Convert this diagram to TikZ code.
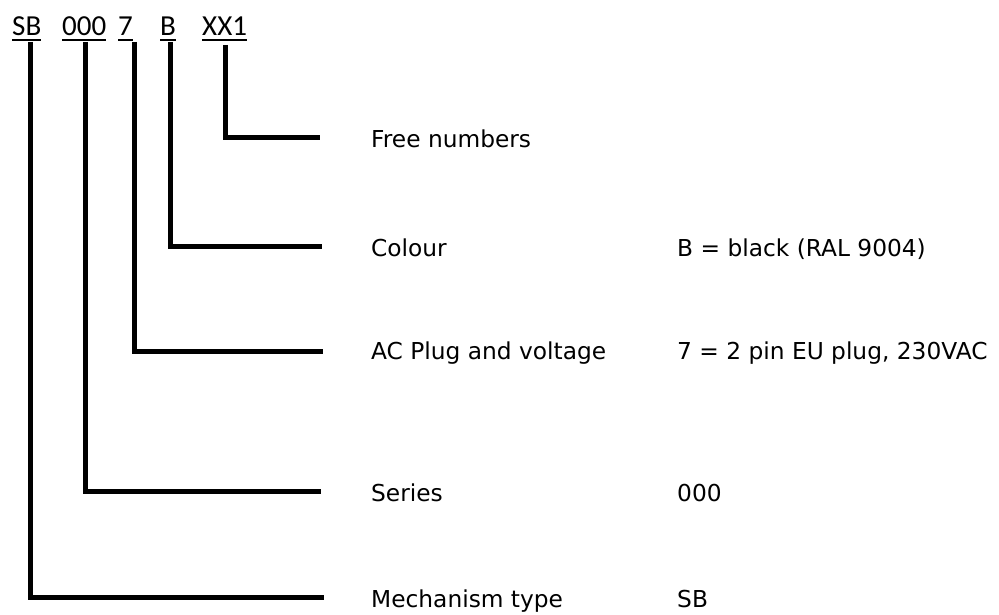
\documentclass[tikz,border=0pt]{standalone}
\usepackage{fontspec}
\setmainfont{DejaVu Sans}
\newfontfamily\codefont{Carlito}
\begin{document}
\begin{tikzpicture}[x=1pt,y=-1pt,
  code/.style={anchor=base west,inner sep=0pt,font=\codefont\fontsize{29}{32}\selectfont},
  desc/.style={anchor=base west,inner sep=0pt,font=\fontsize{23.3}{27}\selectfont},
  conn/.style={line width=5pt,line join=miter},
  uline/.style={line width=2pt}]
\useasboundingbox (0,0) rectangle (999,615);
% code labels
\node[code] (sb) at (12,36) {SB};
\node[code] (ser) at (62,36) {000};
\node[code] (pl) at (118,36) {7};
\node[code] (col) at (160,36) {B};
\node[code] (fr) at (202,36) {XX1};
\foreach \n in {sb,ser,pl,col,fr}
  \draw[uline] ([yshift=-4pt]\n.base west) -- ([yshift=-4pt]\n.base east);
% connector anchors
\coordinate (sbtop) at (30,42);
\coordinate (sertop) at (85,42);
\coordinate (pltop) at (134,42);
\coordinate (coltop) at (170.5,42);
\coordinate (frtop) at (225.5,45);
\coordinate (sbend) at (324,597);
\coordinate (serend) at (321,491);
\coordinate (plend) at (323,351);
\coordinate (colend) at (322,246);
\coordinate (frend) at (320,138);
\draw[conn] (sbtop) |- (sbend);
\draw[conn] (sertop) |- (serend);
\draw[conn] (pltop) |- (plend);
\draw[conn] (coltop) |- (colend);
\draw[conn] (frtop) |- (frend);
% descriptions
\node[desc] (frd) at (371,148) {Free numbers};
\node[desc] (cold) at (371,256) {Colour};
\node[desc] (pld) at (371,359) {AC Plug and voltage};
\node[desc] (serd) at (371,501) {Series};
\node[desc] (sbd) at (371,607) {Mechanism type};
\node[desc] (colv) at (677,256) {B = black (RAL 9004)};
\node[desc] (plv) at (677,359) {7 = 2 pin EU plug, 230VAC};
\node[desc] (serv) at (677,501) {000};
\node[desc] (sbv) at (677,607) {SB};
\end{tikzpicture}
\end{document}
